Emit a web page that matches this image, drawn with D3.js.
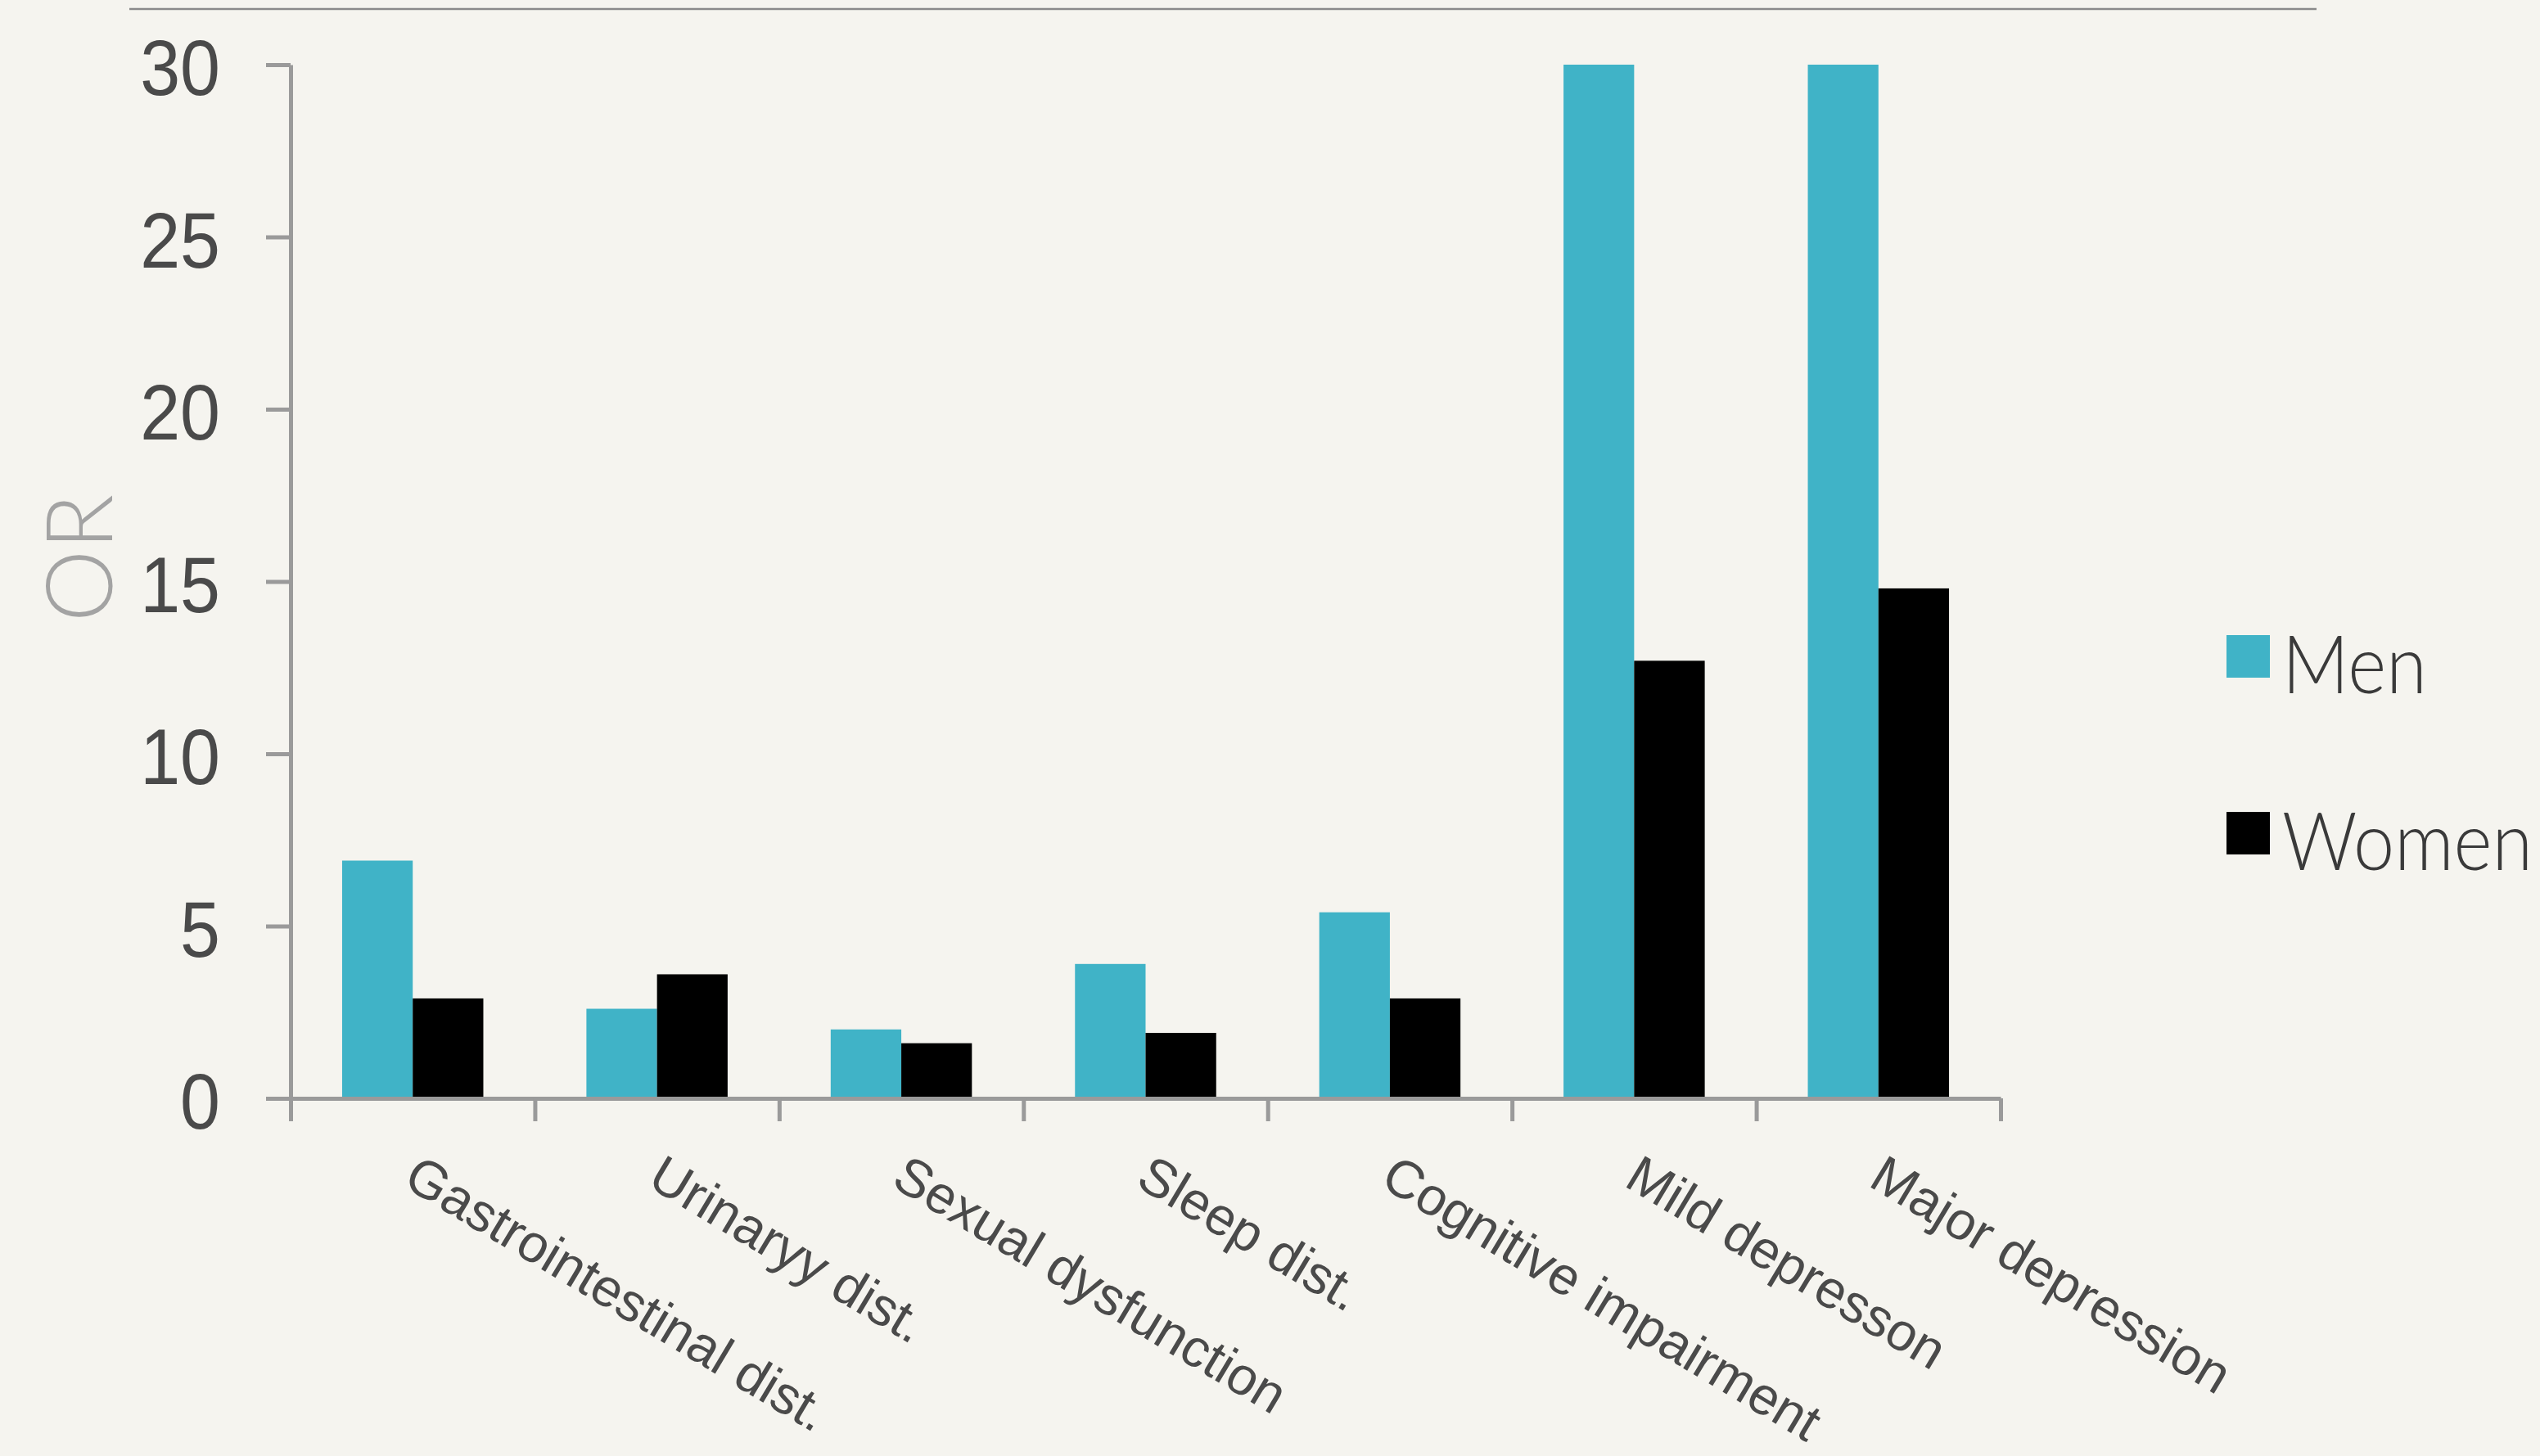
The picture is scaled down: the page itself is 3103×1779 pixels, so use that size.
<!DOCTYPE html>
<html>
<head>
<meta charset="utf-8">
<script src="https://cdn.jsdelivr.net/npm/d3@7"></script>
<style>
  html, body { margin: 0; padding: 0; background: #f5f4ef; }
  svg { display: block; font-family: Lato, "Helvetica Neue", "Liberation Sans", sans-serif; font-weight: 300; }
</style>
</head>
<body>
<div id="chart"></div>
<script>
// values (men's bars for depression run off the top at 30)
const categories = ["Gastrointestinal dist.", "Urinaryy dist.", "Sexual dysfunction", "Sleep dist.", "Cognitive impairment", "Mild depresson", "Major depression"];
const series = ["Men", "Women"];
const menValues = [6.9, 2.6, 2.0, 3.9, 5.4, 30, 30];
const womenValues = [2.9, 3.6, 1.6, 1.9, 2.9, 12.7, 14.8];
const yTicks = [0, 5, 10, 15, 20, 25, 30];
const yLabel = "OR";

const colors = { "Men": "#40b3c7", "Women": "#000000" };
const axisColor = "#9a9a9a";
const textColor = "#4a4a4a";

const width = 3103;
const height = 1779;
const margin = { top: 79, left: 355, bottom: 1342, right: 2444 };

const svg = d3.select("#chart")
    .append("svg")
    .attr("width", width)
    .attr("height", height);

svg.append("rect")
    .attr("width", width)
    .attr("height", height)
    .attr("fill", "#f5f4ef");

// thin rule across the top
svg.append("line")
    .attr("x1", 158).attr("x2", 2830)
    .attr("y1", 11).attr("y2", 11)
    .attr("stroke", "#8a8a8a")
    .attr("stroke-width", 2.5);

const data = categories.map((c, i) => ({ cat: c, Men: menValues[i], Women: womenValues[i] }));

const x0 = d3.scaleBand()
    .domain(categories)
    .range([margin.left, margin.right]);

const x1 = d3.scaleBand()
    .domain(series)
    .range([0, x0.bandwidth()])
    .paddingOuter(0.73);

const y = d3.scaleLinear()
    .domain([0, 30])
    .range([margin.bottom, margin.top])
    .clamp(true);

// bars
svg.append("g")
    .selectAll("g")
    .data(data)
    .join("g")
    .attr("transform", d => "translate(" + x0(d.cat) + ",0)")
    .selectAll("rect")
    .data(d => series.map(s => ({ key: s, value: d[s] })))
    .join("rect")
    .attr("x", d => x1(d.key))
    .attr("width", x1.bandwidth())
    .attr("y", d => y(d.value))
    .attr("height", d => y(0) - y(d.value))
    .attr("fill", d => colors[d.key]);

// y axis
const yAxis = svg.append("g")
    .attr("transform", "translate(" + margin.left + ",0)")
    .call(d3.axisLeft(y).tickValues(yTicks).tickSize(30).tickSizeOuter(0).tickPadding(56));

yAxis.select(".domain").attr("stroke", axisColor).attr("stroke-width", 5);
yAxis.selectAll(".tick line").attr("stroke", axisColor).attr("stroke-width", 5);
yAxis.selectAll(".tick text")
    .attr("fill", textColor)
    .attr("font-size", 88)
    .attr("font-family", null)
    .attr("dy", "0.38em")
    .attr("transform", "scale(1,1.1)");

// x axis: ticks sit on the category boundaries
const xEdge = d3.scaleLinear()
    .domain([0, categories.length])
    .range(x0.range());

const xAxis = svg.append("g")
    .attr("transform", "translate(0," + margin.bottom + ")")
    .call(d3.axisBottom(xEdge).tickValues(d3.range(categories.length + 1)).tickSize(28).tickSizeOuter(0).tickFormat(""));

xAxis.select(".domain").attr("stroke", axisColor).attr("stroke-width", 5);
xAxis.selectAll(".tick line").attr("stroke", axisColor).attr("stroke-width", 5);

// slanted category labels
const xLabels = svg.append("g")
    .attr("transform", "translate(0," + (margin.bottom + 106) + ")")
    .call(d3.axisBottom(x0).tickSize(0).tickPadding(0));

xLabels.select(".domain").remove();
xLabels.selectAll(".tick text")
    .attr("fill", textColor)
    .attr("font-size", 65)
    .attr("font-family", null)
    .attr("text-anchor", "start")
    .attr("x", 0).attr("y", 0).attr("dy", 0)
    .attr("transform", "translate(-14,0) rotate(31)");

// y axis title
svg.append("text")
    .attr("transform", "translate(137,682) rotate(-90)")
    .attr("text-anchor", "middle")
    .attr("fill", "#a3a3a3")
    .attr("font-size", 112)
    .text(yLabel);

// legend
const legend = svg.append("g")
    .selectAll("g")
    .data(series)
    .join("g")
    .attr("transform", (d, i) => "translate(2720," + (776 + i * 216) + ")");

legend.append("rect")
    .attr("width", 53)
    .attr("height", 52)
    .attr("fill", d => colors[d]);

legend.append("text")
    .attr("transform", "translate(68,71) scale(1,1.1)")
    .attr("fill", "#3a3a3a")
    .attr("font-size", 90)
    .text(d => d);
</script>
</body>
</html>
